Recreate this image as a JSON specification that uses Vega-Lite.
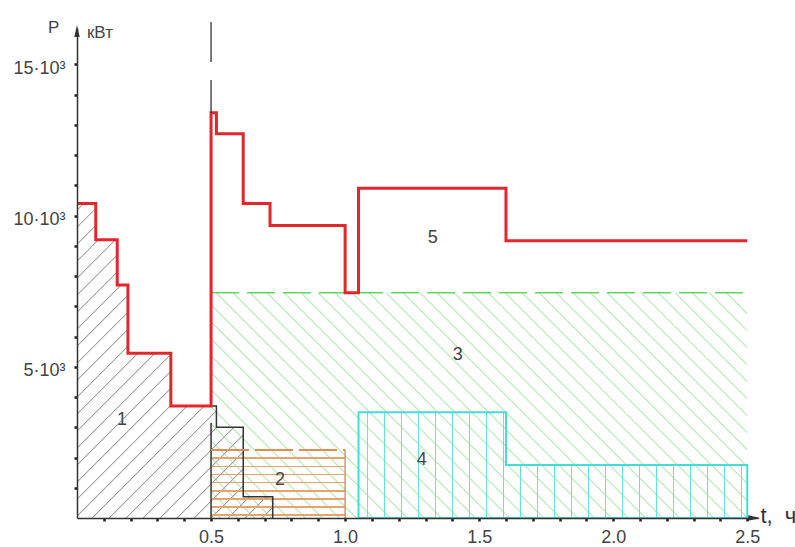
{
  "$schema": "https://vega.github.io/schema/vega-lite/v6.json",
  "width": 681,
  "height": 490,
  "autosize": {"type": "none"},
  "padding": {"left": 77, "top": 28, "right": 37, "bottom": 29},
  "background": "white",
  "config": {"view": {"stroke": null}},
  "datasets": {
    "hatch3": [{"x": 0.5, "x2": 2.5, "y": 0, "y2": 7450}],
    "area1": [
      {"x": 0, "y": 10400}, {"x": 0.07, "y": 9200}, {"x": 0.15, "y": 7700}, {"x": 0.19, "y": 5450},
      {"x": 0.35, "y": 3700}, {"x": 0.52, "y": 3000}, {"x": 0.62, "y": 700}, {"x": 0.73, "y": 0}
    ],
    "hatch2": [{"x": 0.5, "x2": 1.0, "y": 0, "y2": 2250}],
    "edge2": [{"x": 1.0, "y": 0, "y2": 2250}],
    "area4": [{"x": 1.05, "y": 3500}, {"x": 1.6, "y": 1750}, {"x": 2.5, "y": 1750}],
    "blackStep": [{"x": 0.5, "y": 3700}, {"x": 0.52, "y": 3000}, {"x": 0.62, "y": 700}, {"x": 0.73, "y": 0}],
    "blackEdge": [{"x": 0.5, "y": 0, "y2": 3150}],
    "line3": [{"x": 0.5, "x2": 2.5, "y": 7450}],
    "top2": [{"x": 0.5, "x2": 1.0, "y": 2250}],
    "line5": [
      {"x": 0, "y": 10400}, {"x": 0.07, "y": 9200}, {"x": 0.15, "y": 7700}, {"x": 0.19, "y": 5450},
      {"x": 0.35, "y": 3700}, {"x": 0.5, "y": 13400}, {"x": 0.52, "y": 12700}, {"x": 0.62, "y": 10400},
      {"x": 0.72, "y": 9670}, {"x": 1.0, "y": 7450}, {"x": 1.05, "y": 10900}, {"x": 1.6, "y": 9170},
      {"x": 2.5, "y": 9170}
    ],
    "dashed": [{"x": 0.5, "y": 16400, "y2": 13400}],
    "regions": [
      {"x": 0.168, "y": 3240, "label": "1"},
      {"x": 0.757, "y": 1260, "label": "2"},
      {"x": 1.42, "y": 5390, "label": "3"},
      {"x": 1.286, "y": 1920, "label": "4"},
      {"x": 1.327, "y": 9250, "label": "5"}
    ],
    "captionP": [{"x": -0.108, "y": 16030, "label": "P"}],
    "captionUnit": [{"x": 0.037, "y": 15870, "label": "кВт"}],
    "captionT": [{"x": 2.549, "y": -165, "label": "t, \u00a0ч"}],
    "arrowX": [{"x": 2.526, "y": 0}],
    "arrowY": [{"x": 0, "y": 16100}]
  },
  "encoding": {
    "x": {
      "field": "x", "type": "quantitative",
      "scale": {"domain": [0, 2.54], "nice": false, "zero": false},
      "axis": {
        "title": null, "grid": false, "zindex": 1,
        "values": [0.1,0.2,0.3,0.4,0.5,0.6,0.7,0.8,0.9,1.0,1.1,1.2,1.3,1.4,1.5,1.6,1.7,1.8,1.9,2.0,2.1,2.2,2.3,2.4,2.5],
        "labelExpr": "abs(datum.value*2 - round(datum.value*2)) < 0.001 ? format(datum.value, '.1f') : ''",
        "domainColor": "#333", "domainWidth": 1.5, "tickColor": "#222", "tickWidth": 2.5, "tickSize": 3,
        "labelFont": "Liberation Sans", "labelFontSize": 18, "labelColor": "#444", "labelPadding": 7,
        "labelFlush": false, "labelOverlap": false
      }
    },
    "y": {
      "field": "y", "type": "quantitative",
      "scale": {"domain": [0, 16200], "nice": false, "zero": false},
      "axis": {
        "title": null, "grid": false, "zindex": 1,
        "values": [1000,2000,3000,4000,5000,6000,7000,8000,9000,10000,11000,12000,13000,14000,15000],
        "labelExpr": "datum.value % 5000 === 0 ? (datum.value/1000) + '·10³' : ''",
        "domainColor": "#333", "domainWidth": 1.5, "tickColor": "#222", "tickWidth": 2.5, "tickSize": 3,
        "labelFont": "Liberation Sans", "labelFontSize": 18, "labelColor": "#444", "labelPadding": 9,
        "labelOffset": 4, "labelOverlap": false
      }
    }
  },
  "layer": [
    {
      "data": {"name": "hatch3"},
      "mark": {
        "type": "rect",
        "fill": {
          "gradient": "linear", "x1": 0, "y1": 1, "x2": 1.2071, "y2": 0.4924,
          "stops": [
            {"offset": 0, "color": "rgba(255,255,255,0)"},
            {"offset": 0.0100, "color": "rgba(255,255,255,0)"}, {"offset": 0.0123, "color": "#8ede8e"}, {"offset": 0.0145, "color": "rgba(255,255,255,0)"},
            {"offset": 0.0323, "color": "rgba(255,255,255,0)"}, {"offset": 0.0346, "color": "#8ede8e"}, {"offset": 0.0368, "color": "rgba(255,255,255,0)"},
            {"offset": 0.0547, "color": "rgba(255,255,255,0)"}, {"offset": 0.0569, "color": "#8ede8e"}, {"offset": 0.0592, "color": "rgba(255,255,255,0)"},
            {"offset": 0.0770, "color": "rgba(255,255,255,0)"}, {"offset": 0.0792, "color": "#8ede8e"}, {"offset": 0.0815, "color": "rgba(255,255,255,0)"},
            {"offset": 0.0993, "color": "rgba(255,255,255,0)"}, {"offset": 0.1016, "color": "#8ede8e"}, {"offset": 0.1038, "color": "rgba(255,255,255,0)"},
            {"offset": 0.1216, "color": "rgba(255,255,255,0)"}, {"offset": 0.1239, "color": "#8ede8e"}, {"offset": 0.1261, "color": "rgba(255,255,255,0)"},
            {"offset": 0.1440, "color": "rgba(255,255,255,0)"}, {"offset": 0.1462, "color": "#8ede8e"}, {"offset": 0.1485, "color": "rgba(255,255,255,0)"},
            {"offset": 0.1663, "color": "rgba(255,255,255,0)"}, {"offset": 0.1685, "color": "#8ede8e"}, {"offset": 0.1708, "color": "rgba(255,255,255,0)"},
            {"offset": 0.1886, "color": "rgba(255,255,255,0)"}, {"offset": 0.1909, "color": "#8ede8e"}, {"offset": 0.1931, "color": "rgba(255,255,255,0)"},
            {"offset": 0.2109, "color": "rgba(255,255,255,0)"}, {"offset": 0.2132, "color": "#8ede8e"}, {"offset": 0.2154, "color": "rgba(255,255,255,0)"},
            {"offset": 0.2333, "color": "rgba(255,255,255,0)"}, {"offset": 0.2355, "color": "#8ede8e"}, {"offset": 0.2378, "color": "rgba(255,255,255,0)"},
            {"offset": 0.2556, "color": "rgba(255,255,255,0)"}, {"offset": 0.2578, "color": "#8ede8e"}, {"offset": 0.2601, "color": "rgba(255,255,255,0)"},
            {"offset": 0.2779, "color": "rgba(255,255,255,0)"}, {"offset": 0.2802, "color": "#8ede8e"}, {"offset": 0.2824, "color": "rgba(255,255,255,0)"},
            {"offset": 0.3003, "color": "rgba(255,255,255,0)"}, {"offset": 0.3025, "color": "#8ede8e"}, {"offset": 0.3048, "color": "rgba(255,255,255,0)"},
            {"offset": 0.3226, "color": "rgba(255,255,255,0)"}, {"offset": 0.3248, "color": "#8ede8e"}, {"offset": 0.3271, "color": "rgba(255,255,255,0)"},
            {"offset": 0.3449, "color": "rgba(255,255,255,0)"}, {"offset": 0.3472, "color": "#8ede8e"}, {"offset": 0.3494, "color": "rgba(255,255,255,0)"},
            {"offset": 0.3672, "color": "rgba(255,255,255,0)"}, {"offset": 0.3695, "color": "#8ede8e"}, {"offset": 0.3717, "color": "rgba(255,255,255,0)"},
            {"offset": 0.3896, "color": "rgba(255,255,255,0)"}, {"offset": 0.3918, "color": "#8ede8e"}, {"offset": 0.3941, "color": "rgba(255,255,255,0)"},
            {"offset": 0.4119, "color": "rgba(255,255,255,0)"}, {"offset": 0.4141, "color": "#8ede8e"}, {"offset": 0.4164, "color": "rgba(255,255,255,0)"},
            {"offset": 0.4342, "color": "rgba(255,255,255,0)"}, {"offset": 0.4365, "color": "#8ede8e"}, {"offset": 0.4387, "color": "rgba(255,255,255,0)"},
            {"offset": 0.4565, "color": "rgba(255,255,255,0)"}, {"offset": 0.4588, "color": "#8ede8e"}, {"offset": 0.4610, "color": "rgba(255,255,255,0)"},
            {"offset": 0.4789, "color": "rgba(255,255,255,0)"}, {"offset": 0.4811, "color": "#8ede8e"}, {"offset": 0.4834, "color": "rgba(255,255,255,0)"},
            {"offset": 0.5012, "color": "rgba(255,255,255,0)"}, {"offset": 0.5034, "color": "#8ede8e"}, {"offset": 0.5057, "color": "rgba(255,255,255,0)"},
            {"offset": 0.5235, "color": "rgba(255,255,255,0)"}, {"offset": 0.5258, "color": "#8ede8e"}, {"offset": 0.5280, "color": "rgba(255,255,255,0)"},
            {"offset": 0.5459, "color": "rgba(255,255,255,0)"}, {"offset": 0.5481, "color": "#8ede8e"}, {"offset": 0.5504, "color": "rgba(255,255,255,0)"},
            {"offset": 0.5682, "color": "rgba(255,255,255,0)"}, {"offset": 0.5704, "color": "#8ede8e"}, {"offset": 0.5727, "color": "rgba(255,255,255,0)"},
            {"offset": 0.5905, "color": "rgba(255,255,255,0)"}, {"offset": 0.5928, "color": "#8ede8e"}, {"offset": 0.5950, "color": "rgba(255,255,255,0)"},
            {"offset": 0.6128, "color": "rgba(255,255,255,0)"}, {"offset": 0.6151, "color": "#8ede8e"}, {"offset": 0.6173, "color": "rgba(255,255,255,0)"},
            {"offset": 0.6352, "color": "rgba(255,255,255,0)"}, {"offset": 0.6374, "color": "#8ede8e"}, {"offset": 0.6397, "color": "rgba(255,255,255,0)"},
            {"offset": 0.6575, "color": "rgba(255,255,255,0)"}, {"offset": 0.6597, "color": "#8ede8e"}, {"offset": 0.6620, "color": "rgba(255,255,255,0)"},
            {"offset": 0.6798, "color": "rgba(255,255,255,0)"}, {"offset": 0.6821, "color": "#8ede8e"}, {"offset": 0.6843, "color": "rgba(255,255,255,0)"},
            {"offset": 0.7021, "color": "rgba(255,255,255,0)"}, {"offset": 0.7044, "color": "#8ede8e"}, {"offset": 0.7066, "color": "rgba(255,255,255,0)"},
            {"offset": 0.7245, "color": "rgba(255,255,255,0)"}, {"offset": 0.7267, "color": "#8ede8e"}, {"offset": 0.7290, "color": "rgba(255,255,255,0)"},
            {"offset": 0.7468, "color": "rgba(255,255,255,0)"}, {"offset": 0.7490, "color": "#8ede8e"}, {"offset": 0.7513, "color": "rgba(255,255,255,0)"},
            {"offset": 0.7691, "color": "rgba(255,255,255,0)"}, {"offset": 0.7714, "color": "#8ede8e"}, {"offset": 0.7736, "color": "rgba(255,255,255,0)"},
            {"offset": 0.7914, "color": "rgba(255,255,255,0)"}, {"offset": 0.7937, "color": "#8ede8e"}, {"offset": 0.7959, "color": "rgba(255,255,255,0)"},
            {"offset": 0.8138, "color": "rgba(255,255,255,0)"}, {"offset": 0.8160, "color": "#8ede8e"}, {"offset": 0.8183, "color": "rgba(255,255,255,0)"},
            {"offset": 0.8361, "color": "rgba(255,255,255,0)"}, {"offset": 0.8383, "color": "#8ede8e"}, {"offset": 0.8406, "color": "rgba(255,255,255,0)"},
            {"offset": 0.8584, "color": "rgba(255,255,255,0)"}, {"offset": 0.8607, "color": "#8ede8e"}, {"offset": 0.8629, "color": "rgba(255,255,255,0)"},
            {"offset": 0.8808, "color": "rgba(255,255,255,0)"}, {"offset": 0.8830, "color": "#8ede8e"}, {"offset": 0.8853, "color": "rgba(255,255,255,0)"},
            {"offset": 0.9031, "color": "rgba(255,255,255,0)"}, {"offset": 0.9053, "color": "#8ede8e"}, {"offset": 0.9076, "color": "rgba(255,255,255,0)"},
            {"offset": 0.9254, "color": "rgba(255,255,255,0)"}, {"offset": 0.9276, "color": "#8ede8e"}, {"offset": 0.9299, "color": "rgba(255,255,255,0)"},
            {"offset": 0.9477, "color": "rgba(255,255,255,0)"}, {"offset": 0.9500, "color": "#8ede8e"}, {"offset": 0.9522, "color": "rgba(255,255,255,0)"},
            {"offset": 0.9701, "color": "rgba(255,255,255,0)"}, {"offset": 0.9723, "color": "#8ede8e"}, {"offset": 0.9746, "color": "rgba(255,255,255,0)"},
            {"offset": 1, "color": "rgba(255,255,255,0)"}
          ]
        }
      },
      "encoding": {"x2": {"field": "x2"}, "y2": {"field": "y2"}}
    },
    {
      "data": {"name": "area1"},
      "mark": {
        "type": "area", "interpolate": "step-after",
        "fill": {
          "gradient": "linear", "x1": 0, "y1": 0, "x2": 0.7275, "y2": 1.1695,
          "stops": [
            {"offset": 0, "color": "rgba(255,255,255,0)"},
            {"offset": 0.0100, "color": "rgba(255,255,255,0)"}, {"offset": 0.0134, "color": "#8a8a8a"}, {"offset": 0.0167, "color": "rgba(255,255,255,0)"},
            {"offset": 0.0433, "color": "rgba(255,255,255,0)"}, {"offset": 0.0467, "color": "#8a8a8a"}, {"offset": 0.0500, "color": "rgba(255,255,255,0)"},
            {"offset": 0.0766, "color": "rgba(255,255,255,0)"}, {"offset": 0.0800, "color": "#8a8a8a"}, {"offset": 0.0833, "color": "rgba(255,255,255,0)"},
            {"offset": 0.1099, "color": "rgba(255,255,255,0)"}, {"offset": 0.1133, "color": "#8a8a8a"}, {"offset": 0.1166, "color": "rgba(255,255,255,0)"},
            {"offset": 0.1432, "color": "rgba(255,255,255,0)"}, {"offset": 0.1466, "color": "#8a8a8a"}, {"offset": 0.1499, "color": "rgba(255,255,255,0)"},
            {"offset": 0.1766, "color": "rgba(255,255,255,0)"}, {"offset": 0.1799, "color": "#8a8a8a"}, {"offset": 0.1833, "color": "rgba(255,255,255,0)"},
            {"offset": 0.2099, "color": "rgba(255,255,255,0)"}, {"offset": 0.2132, "color": "#8a8a8a"}, {"offset": 0.2166, "color": "rgba(255,255,255,0)"},
            {"offset": 0.2432, "color": "rgba(255,255,255,0)"}, {"offset": 0.2465, "color": "#8a8a8a"}, {"offset": 0.2499, "color": "rgba(255,255,255,0)"},
            {"offset": 0.2765, "color": "rgba(255,255,255,0)"}, {"offset": 0.2798, "color": "#8a8a8a"}, {"offset": 0.2832, "color": "rgba(255,255,255,0)"},
            {"offset": 0.3098, "color": "rgba(255,255,255,0)"}, {"offset": 0.3131, "color": "#8a8a8a"}, {"offset": 0.3165, "color": "rgba(255,255,255,0)"},
            {"offset": 0.3431, "color": "rgba(255,255,255,0)"}, {"offset": 0.3465, "color": "#8a8a8a"}, {"offset": 0.3498, "color": "rgba(255,255,255,0)"},
            {"offset": 0.3764, "color": "rgba(255,255,255,0)"}, {"offset": 0.3798, "color": "#8a8a8a"}, {"offset": 0.3831, "color": "rgba(255,255,255,0)"},
            {"offset": 0.4097, "color": "rgba(255,255,255,0)"}, {"offset": 0.4131, "color": "#8a8a8a"}, {"offset": 0.4164, "color": "rgba(255,255,255,0)"},
            {"offset": 0.4430, "color": "rgba(255,255,255,0)"}, {"offset": 0.4464, "color": "#8a8a8a"}, {"offset": 0.4497, "color": "rgba(255,255,255,0)"},
            {"offset": 0.4763, "color": "rgba(255,255,255,0)"}, {"offset": 0.4797, "color": "#8a8a8a"}, {"offset": 0.4830, "color": "rgba(255,255,255,0)"},
            {"offset": 0.5097, "color": "rgba(255,255,255,0)"}, {"offset": 0.5130, "color": "#8a8a8a"}, {"offset": 0.5164, "color": "rgba(255,255,255,0)"},
            {"offset": 0.5430, "color": "rgba(255,255,255,0)"}, {"offset": 0.5463, "color": "#8a8a8a"}, {"offset": 0.5497, "color": "rgba(255,255,255,0)"},
            {"offset": 0.5763, "color": "rgba(255,255,255,0)"}, {"offset": 0.5796, "color": "#8a8a8a"}, {"offset": 0.5830, "color": "rgba(255,255,255,0)"},
            {"offset": 0.6096, "color": "rgba(255,255,255,0)"}, {"offset": 0.6129, "color": "#8a8a8a"}, {"offset": 0.6163, "color": "rgba(255,255,255,0)"},
            {"offset": 0.6429, "color": "rgba(255,255,255,0)"}, {"offset": 0.6462, "color": "#8a8a8a"}, {"offset": 0.6496, "color": "rgba(255,255,255,0)"},
            {"offset": 0.6762, "color": "rgba(255,255,255,0)"}, {"offset": 0.6796, "color": "#8a8a8a"}, {"offset": 0.6829, "color": "rgba(255,255,255,0)"},
            {"offset": 0.7095, "color": "rgba(255,255,255,0)"}, {"offset": 0.7129, "color": "#8a8a8a"}, {"offset": 0.7162, "color": "rgba(255,255,255,0)"},
            {"offset": 0.7428, "color": "rgba(255,255,255,0)"}, {"offset": 0.7462, "color": "#8a8a8a"}, {"offset": 0.7495, "color": "rgba(255,255,255,0)"},
            {"offset": 0.7761, "color": "rgba(255,255,255,0)"}, {"offset": 0.7795, "color": "#8a8a8a"}, {"offset": 0.7828, "color": "rgba(255,255,255,0)"},
            {"offset": 0.8094, "color": "rgba(255,255,255,0)"}, {"offset": 0.8128, "color": "#8a8a8a"}, {"offset": 0.8161, "color": "rgba(255,255,255,0)"},
            {"offset": 0.8428, "color": "rgba(255,255,255,0)"}, {"offset": 0.8461, "color": "#8a8a8a"}, {"offset": 0.8495, "color": "rgba(255,255,255,0)"},
            {"offset": 0.8761, "color": "rgba(255,255,255,0)"}, {"offset": 0.8794, "color": "#8a8a8a"}, {"offset": 0.8828, "color": "rgba(255,255,255,0)"},
            {"offset": 0.9094, "color": "rgba(255,255,255,0)"}, {"offset": 0.9127, "color": "#8a8a8a"}, {"offset": 0.9161, "color": "rgba(255,255,255,0)"},
            {"offset": 0.9427, "color": "rgba(255,255,255,0)"}, {"offset": 0.9460, "color": "#8a8a8a"}, {"offset": 0.9494, "color": "rgba(255,255,255,0)"},
            {"offset": 0.9760, "color": "rgba(255,255,255,0)"}, {"offset": 0.9793, "color": "#8a8a8a"}, {"offset": 0.9827, "color": "rgba(255,255,255,0)"},
            {"offset": 1, "color": "rgba(255,255,255,0)"}
          ]
        }
      },
      "encoding": {}
    },
    {
      "data": {"name": "hatch2"},
      "mark": {
        "type": "rect",
        "fill": {
          "gradient": "linear", "x1": 0, "y1": 0, "x2": 0, "y2": 1,
          "stops": [
            {"offset": 0, "color": "rgba(255,255,255,0)"},
            {"offset": 0.110, "color": "rgba(255,255,255,0)"}, {"offset": 0.110, "color": "#e6a46c"}, {"offset": 0.132, "color": "#e6a46c"}, {"offset": 0.132, "color": "rgba(255,255,255,0)"},
            {"offset": 0.230, "color": "rgba(255,255,255,0)"}, {"offset": 0.230, "color": "#e6a46c"}, {"offset": 0.252, "color": "#e6a46c"}, {"offset": 0.252, "color": "rgba(255,255,255,0)"},
            {"offset": 0.350, "color": "rgba(255,255,255,0)"}, {"offset": 0.350, "color": "#e6a46c"}, {"offset": 0.372, "color": "#e6a46c"}, {"offset": 0.372, "color": "rgba(255,255,255,0)"},
            {"offset": 0.470, "color": "rgba(255,255,255,0)"}, {"offset": 0.470, "color": "#e6a46c"}, {"offset": 0.492, "color": "#e6a46c"}, {"offset": 0.492, "color": "rgba(255,255,255,0)"},
            {"offset": 0.590, "color": "rgba(255,255,255,0)"}, {"offset": 0.590, "color": "#e6a46c"}, {"offset": 0.612, "color": "#e6a46c"}, {"offset": 0.612, "color": "rgba(255,255,255,0)"},
            {"offset": 0.710, "color": "rgba(255,255,255,0)"}, {"offset": 0.710, "color": "#e6a46c"}, {"offset": 0.732, "color": "#e6a46c"}, {"offset": 0.732, "color": "rgba(255,255,255,0)"},
            {"offset": 0.830, "color": "rgba(255,255,255,0)"}, {"offset": 0.830, "color": "#e6a46c"}, {"offset": 0.852, "color": "#e6a46c"}, {"offset": 0.852, "color": "rgba(255,255,255,0)"},
            {"offset": 0.945, "color": "rgba(255,255,255,0)"}, {"offset": 0.945, "color": "#e6a46c"}, {"offset": 0.967, "color": "#e6a46c"}, {"offset": 0.967, "color": "rgba(255,255,255,0)"},
            {"offset": 1, "color": "rgba(255,255,255,0)"}
          ]
        }
      },
      "encoding": {"x2": {"field": "x2"}, "y2": {"field": "y2"}}
    },
    {
      "data": {"name": "edge2"},
      "mark": {"type": "rule", "color": "#e0925a", "strokeWidth": 1.5},
      "encoding": {"y2": {"field": "y2"}}
    },
    {
      "data": {"name": "area4"},
      "mark": {
        "type": "area", "interpolate": "step-after", "stroke": "#45dcd8", "strokeWidth": 2,
        "fill": {
          "gradient": "linear", "x1": 0, "y1": 0, "x2": 1, "y2": 0,
          "stops": [
            {"offset": 0, "color": "rgba(255,255,255,0)"},
            {"offset": 0.0206, "color": "rgba(255,255,255,0)"}, {"offset": 0.0206, "color": "#5fe4e0"}, {"offset": 0.0251, "color": "#5fe4e0"}, {"offset": 0.0251, "color": "rgba(255,255,255,0)"},
            {"offset": 0.0643, "color": "rgba(255,255,255,0)"}, {"offset": 0.0643, "color": "#5fe4e0"}, {"offset": 0.0688, "color": "#5fe4e0"}, {"offset": 0.0688, "color": "rgba(255,255,255,0)"},
            {"offset": 0.1081, "color": "rgba(255,255,255,0)"}, {"offset": 0.1081, "color": "#5fe4e0"}, {"offset": 0.1126, "color": "#5fe4e0"}, {"offset": 0.1126, "color": "rgba(255,255,255,0)"},
            {"offset": 0.1518, "color": "rgba(255,255,255,0)"}, {"offset": 0.1518, "color": "#5fe4e0"}, {"offset": 0.1563, "color": "#5fe4e0"}, {"offset": 0.1563, "color": "rgba(255,255,255,0)"},
            {"offset": 0.1956, "color": "rgba(255,255,255,0)"}, {"offset": 0.1956, "color": "#5fe4e0"}, {"offset": 0.2001, "color": "#5fe4e0"}, {"offset": 0.2001, "color": "rgba(255,255,255,0)"},
            {"offset": 0.2393, "color": "rgba(255,255,255,0)"}, {"offset": 0.2393, "color": "#5fe4e0"}, {"offset": 0.2438, "color": "#5fe4e0"}, {"offset": 0.2438, "color": "rgba(255,255,255,0)"},
            {"offset": 0.2830, "color": "rgba(255,255,255,0)"}, {"offset": 0.2830, "color": "#5fe4e0"}, {"offset": 0.2875, "color": "#5fe4e0"}, {"offset": 0.2875, "color": "rgba(255,255,255,0)"},
            {"offset": 0.3268, "color": "rgba(255,255,255,0)"}, {"offset": 0.3268, "color": "#5fe4e0"}, {"offset": 0.3313, "color": "#5fe4e0"}, {"offset": 0.3313, "color": "rgba(255,255,255,0)"},
            {"offset": 0.3705, "color": "rgba(255,255,255,0)"}, {"offset": 0.3705, "color": "#5fe4e0"}, {"offset": 0.3750, "color": "#5fe4e0"}, {"offset": 0.3750, "color": "rgba(255,255,255,0)"},
            {"offset": 0.4143, "color": "rgba(255,255,255,0)"}, {"offset": 0.4143, "color": "#5fe4e0"}, {"offset": 0.4188, "color": "#5fe4e0"}, {"offset": 0.4188, "color": "rgba(255,255,255,0)"},
            {"offset": 0.4580, "color": "rgba(255,255,255,0)"}, {"offset": 0.4580, "color": "#5fe4e0"}, {"offset": 0.4625, "color": "#5fe4e0"}, {"offset": 0.4625, "color": "rgba(255,255,255,0)"},
            {"offset": 0.5017, "color": "rgba(255,255,255,0)"}, {"offset": 0.5017, "color": "#5fe4e0"}, {"offset": 0.5062, "color": "#5fe4e0"}, {"offset": 0.5062, "color": "rgba(255,255,255,0)"},
            {"offset": 0.5455, "color": "rgba(255,255,255,0)"}, {"offset": 0.5455, "color": "#5fe4e0"}, {"offset": 0.5500, "color": "#5fe4e0"}, {"offset": 0.5500, "color": "rgba(255,255,255,0)"},
            {"offset": 0.5892, "color": "rgba(255,255,255,0)"}, {"offset": 0.5892, "color": "#5fe4e0"}, {"offset": 0.5937, "color": "#5fe4e0"}, {"offset": 0.5937, "color": "rgba(255,255,255,0)"},
            {"offset": 0.6330, "color": "rgba(255,255,255,0)"}, {"offset": 0.6330, "color": "#5fe4e0"}, {"offset": 0.6375, "color": "#5fe4e0"}, {"offset": 0.6375, "color": "rgba(255,255,255,0)"},
            {"offset": 0.6767, "color": "rgba(255,255,255,0)"}, {"offset": 0.6767, "color": "#5fe4e0"}, {"offset": 0.6812, "color": "#5fe4e0"}, {"offset": 0.6812, "color": "rgba(255,255,255,0)"},
            {"offset": 0.7204, "color": "rgba(255,255,255,0)"}, {"offset": 0.7204, "color": "#5fe4e0"}, {"offset": 0.7249, "color": "#5fe4e0"}, {"offset": 0.7249, "color": "rgba(255,255,255,0)"},
            {"offset": 0.7642, "color": "rgba(255,255,255,0)"}, {"offset": 0.7642, "color": "#5fe4e0"}, {"offset": 0.7687, "color": "#5fe4e0"}, {"offset": 0.7687, "color": "rgba(255,255,255,0)"},
            {"offset": 0.8079, "color": "rgba(255,255,255,0)"}, {"offset": 0.8079, "color": "#5fe4e0"}, {"offset": 0.8124, "color": "#5fe4e0"}, {"offset": 0.8124, "color": "rgba(255,255,255,0)"},
            {"offset": 0.8517, "color": "rgba(255,255,255,0)"}, {"offset": 0.8517, "color": "#5fe4e0"}, {"offset": 0.8562, "color": "#5fe4e0"}, {"offset": 0.8562, "color": "rgba(255,255,255,0)"},
            {"offset": 0.8954, "color": "rgba(255,255,255,0)"}, {"offset": 0.8954, "color": "#5fe4e0"}, {"offset": 0.8999, "color": "#5fe4e0"}, {"offset": 0.8999, "color": "rgba(255,255,255,0)"},
            {"offset": 0.9391, "color": "rgba(255,255,255,0)"}, {"offset": 0.9391, "color": "#5fe4e0"}, {"offset": 0.9436, "color": "#5fe4e0"}, {"offset": 0.9436, "color": "rgba(255,255,255,0)"},
            {"offset": 0.9829, "color": "rgba(255,255,255,0)"}, {"offset": 0.9829, "color": "#5fe4e0"}, {"offset": 0.9874, "color": "#5fe4e0"}, {"offset": 0.9874, "color": "rgba(255,255,255,0)"},
            {"offset": 1, "color": "rgba(255,255,255,0)"}
          ]
        }
      },
      "encoding": {}
    },
    {
      "data": {"name": "blackEdge"},
      "mark": {"type": "rule", "color": "#333", "strokeWidth": 1.5},
      "encoding": {"y2": {"field": "y2"}}
    },
    {
      "data": {"name": "blackStep"},
      "mark": {"type": "line", "interpolate": "step-after", "color": "#333", "strokeWidth": 1.5},
      "encoding": {}
    },
    {
      "data": {"name": "top2"},
      "mark": {"type": "rule", "color": "#de8e52", "strokeWidth": 2, "strokeDash": [38, 6]},
      "encoding": {"x2": {"field": "x2"}}
    },
    {
      "data": {"name": "line3"},
      "mark": {"type": "rule", "color": "#5fd85f", "strokeWidth": 1.5, "strokeDash": [28, 8]},
      "encoding": {"x2": {"field": "x2"}}
    },
    {
      "data": {"name": "line5"},
      "mark": {"type": "line", "interpolate": "step-after", "color": "#e3262b", "strokeWidth": 3},
      "encoding": {}
    },
    {
      "data": {"name": "dashed"},
      "mark": {"type": "rule", "color": "#333", "strokeWidth": 1.3, "strokeDash": [40, 18]},
      "encoding": {"y2": {"field": "y2"}}
    },
    {
      "data": {"name": "regions"},
      "mark": {"type": "text", "font": "Liberation Sans", "fontSize": 18, "color": "#444", "align": "center", "baseline": "middle"},
      "encoding": {"text": {"field": "label"}}
    },
    {
      "data": {"name": "captionP"},
      "mark": {"type": "text", "font": "Liberation Sans", "fontSize": 17, "color": "#444", "align": "left", "baseline": "alphabetic"},
      "encoding": {"text": {"field": "label"}}
    },
    {
      "data": {"name": "captionUnit"},
      "mark": {"type": "text", "font": "Liberation Sans", "fontSize": 17, "color": "#444", "align": "left", "baseline": "alphabetic"},
      "encoding": {"text": {"field": "label"}}
    },
    {
      "data": {"name": "captionT"},
      "mark": {"type": "text", "font": "Liberation Sans", "fontSize": 22, "color": "#333", "align": "left", "baseline": "alphabetic"},
      "encoding": {"text": {"field": "label"}}
    },
    {
      "data": {"name": "arrowX"},
      "mark": {"type": "point", "shape": "M-1,-0.45L1,0L-1,0.45Z", "size": 144, "filled": true, "color": "#333", "opacity": 1, "strokeWidth": 0},
      "encoding": {}
    },
    {
      "data": {"name": "arrowY"},
      "mark": {"type": "point", "shape": "M-0.45,1L0,-1L0.45,1Z", "size": 144, "filled": true, "color": "#333", "opacity": 1, "strokeWidth": 0},
      "encoding": {}
    }
  ]
}
